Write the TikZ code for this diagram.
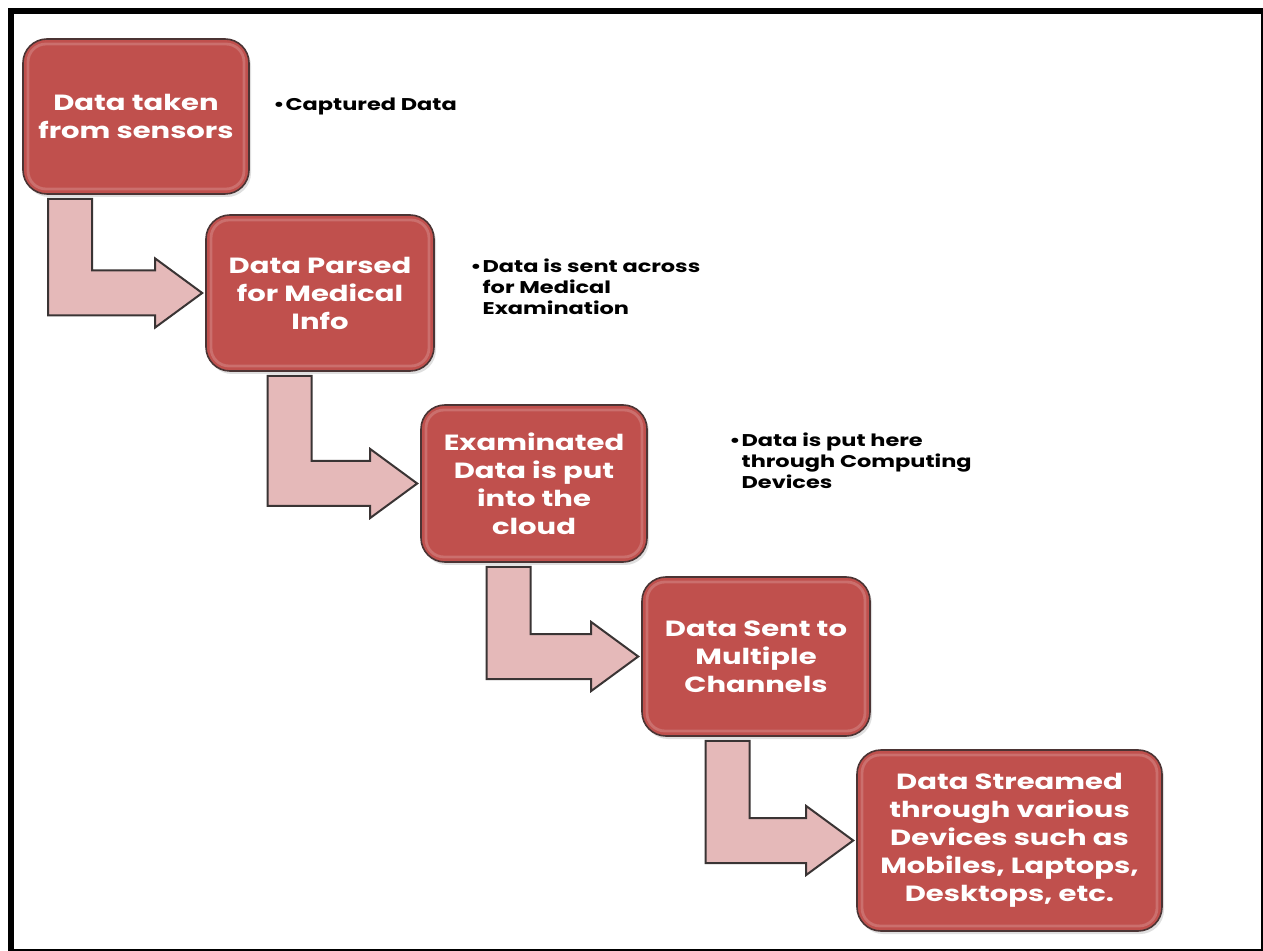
\documentclass[tikz,border=0pt]{standalone}
\usepackage{fontspec}
\newfontfamily\twfont{Poppins}[FakeStretch=1.32]
\usetikzlibrary{calc,shadows}

\definecolor{boxred}{HTML}{C0504D}
\definecolor{boxline}{HTML}{4B3434}
\definecolor{arrowpink}{HTML}{E5B9B9}
\definecolor{arrowline}{HTML}{3A3434}

% L-shaped block arrow: leaves the bottom of #1 (stem centred #3 px right of
% its lower-left corner) and points into the left side of #2
\newcommand\bentarrow[3]{%
  \draw[flowarrow] let \p1=($(#1.south west)+(#3,0)$), \p2=($(#2.west)+(-1.5pt,0)$) in
    (\x1-11pt,\y1-2pt) -- (\x1+11pt,\y1-2pt) -- (\x1+11pt,\y2+11.25pt)
    -- (\x2-23.5pt,\y2+11.25pt) -- (\x2-23.5pt,\y2+17.25pt) -- (\x2,\y2)
    -- (\x2-23.5pt,\y2-17.25pt) -- (\x2-23.5pt,\y2-11.25pt)
    -- (\x1-11pt,\y2-11.25pt) -- cycle;}

\begin{document}
\begin{tikzpicture}[x=0.5pt,y=-0.5pt,
  stepbox/.style={rounded corners=12pt, fill=boxred, draw=boxline, line width=0.8pt,
    minimum width=113pt, minimum height=77.5pt, inner sep=0pt, text=white, align=center,
    font=\twfont\bfseries\fontsize{11}{14}\selectfont,
    drop shadow={opacity=0.25, shadow xshift=1pt, shadow yshift=-1.5pt},
    path picture={\draw[white, opacity=0.18, line width=1.4pt, rounded corners=9pt]
      ([shift={(2.5pt,-2.5pt)}]path picture bounding box.north west) rectangle
      ([shift={(-2.5pt,2.5pt)}]path picture bounding box.south east);}},
  flowarrow/.style={fill=arrowpink, draw=arrowline, line width=1pt, line join=miter},
  notes/.style={font=\twfont\bfseries\fontsize{8.5}{10.5}\selectfont, inner sep=0pt,
    anchor=base west, text=black}]

% page and frame
\useasboundingbox (0,0) rectangle (1263,951);
\fill[white] (0,0) rectangle (1263,951);
\fill[black] (8,8) rectangle (1263,951);
\fill[white] (14,14) rectangle (1261,949);

% process steps
\node[stepbox] (b1) at (136,116.5) {Data taken\\from sensors};
\node[stepbox, minimum width=114pt, minimum height=78pt] (b2) at (320,293) {Data Parsed\\for Medical\\Info};
\node[stepbox, minimum height=78.5pt] (b3) at (534,483.5) {Examinated\\Data is put\\into the\\cloud};
\node[stepbox, minimum width=114pt, minimum height=79.5pt] (b4) at (756,656.5) {Data Sent to\\Multiple\\Channels};
\node[stepbox, minimum width=152.5pt, minimum height=90.5pt] (b5) at (1009.5,840.5) {Data Streamed\\through various\\Devices such as\\Mobiles, Laptops,\\Desktops, etc.};

% connectors
\bentarrow{b1}{b2}{48}
\bentarrow{b2}{b3}{84.5}
\bentarrow{b3}{b4}{88.5}
\bentarrow{b4}{b5}{86.5}

% side notes
\node[notes] (n1) at (273,111) {\begin{tabular}[t]{@{}l@{\hspace{0.5pt}}l@{}}•&Captured Data\end{tabular}};
\node[notes] (n2) at (470,273) {\begin{tabular}[t]{@{}l@{\hspace{0.5pt}}l@{}}•&Data is sent across\\&for Medical\\&Examination\end{tabular}};
\node[notes] (n3) at (729,447) {\begin{tabular}[t]{@{}l@{\hspace{0.5pt}}l@{}}•&Data is put here\\&through Computing\\&Devices\end{tabular}};
\end{tikzpicture}
\end{document}
